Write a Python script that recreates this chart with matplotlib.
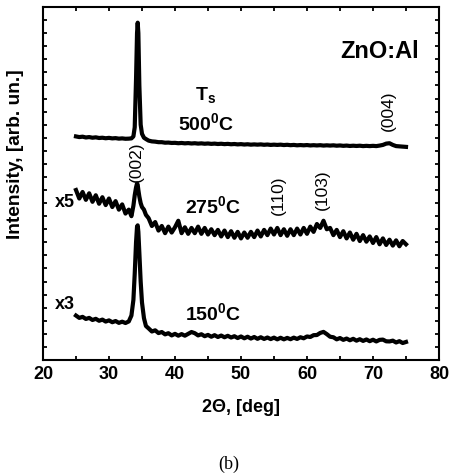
import numpy as np
import matplotlib
matplotlib.use("Agg")
import matplotlib.pyplot as plt
from matplotlib.ticker import MultipleLocator, NullFormatter

# ── fonts ───────────────────────────────────────────────────────────────────
plt.rcParams["font.family"] = ["Liberation Sans", "DejaVu Sans"]
plt.rcParams["mathtext.fontset"] = "custom"
plt.rcParams["mathtext.rm"] = "Liberation Sans:bold"
plt.rcParams["mathtext.bf"] = "Liberation Sans:bold"
plt.rcParams["mathtext.it"] = "Liberation Sans:bold"

# ── data (2Θ in deg, intensity in arb. units, curves already offset) ─────────
theta_left = np.arange(25.0, 33.01, 0.5)
theta_peak = [33.4, 33.7, 33.9, 34.1, 34.25, 34.35, 34.45, 34.6, 34.8, 35.0, 35.3, 35.6]
theta_right = np.arange(36.0, 75.01, 0.5)
two_theta = np.concatenate([theta_left, theta_peak, theta_right])

int_500 = [
    17.10, 17.05, 17.08, 17.02, 17.05, 17.00, 17.03, 16.98, 17.00, 16.96,
    16.99, 16.95, 16.97, 16.93, 16.95, 16.92, 16.93,
    # peak
    16.95, 17.10, 17.80, 21.50, 25.00, 25.80, 25.00, 21.00, 18.00, 17.30, 17.00, 16.90,
    # right
    16.78, 16.72, 16.70, 16.66, 16.66, 16.62, 16.63, 16.60, 16.61, 16.58,
    16.60, 16.57, 16.59, 16.56, 16.58, 16.55, 16.57, 16.54, 16.56, 16.53,
    16.55, 16.52, 16.54, 16.51, 16.53, 16.50, 16.52, 16.49, 16.51, 16.48,
    16.50, 16.47, 16.49, 16.47, 16.49, 16.46, 16.48, 16.45, 16.47, 16.45,
    16.47, 16.44, 16.46, 16.43, 16.45, 16.42, 16.44, 16.42, 16.44, 16.41,
    16.43, 16.41, 16.43, 16.40, 16.42, 16.40, 16.42, 16.39, 16.41, 16.38,
    16.40, 16.37, 16.39, 16.37, 16.39, 16.36, 16.38, 16.36, 16.38, 16.36,
    16.40, 16.45, 16.55, 16.58, 16.45, 16.36, 16.34, 16.32, 16.30,
]

int_275 = [
    13.00, 12.35, 12.85, 12.25, 12.75, 12.10, 12.60, 11.95, 12.45, 11.85,
    12.35, 11.70, 12.15, 11.50, 11.90, 11.20, 11.50,
    # peak
    11.00, 11.80, 12.60, 13.20, 13.50, 13.40, 13.00, 12.50, 12.00, 11.70, 11.50, 11.10,
    # right
    10.85, 10.25, 10.55, 9.90, 10.25, 9.70, 10.20, 9.75, 10.15, 10.65,
    9.70, 10.15, 9.65, 10.10, 9.70, 10.20, 9.65, 10.10, 9.60, 10.00,
    9.55, 9.95, 9.45, 9.90, 9.40, 9.85, 9.35, 9.80, 9.30, 9.75,
    9.35, 9.80, 9.40, 9.90, 9.45, 9.95, 9.55, 10.05, 9.60, 10.10,
    9.55, 10.00, 9.50, 10.00, 9.55, 10.05, 9.60, 10.10, 9.65, 10.20,
    9.80, 10.40, 10.10, 10.65, 10.00, 10.10, 9.55, 9.95, 9.40, 9.85,
    9.30, 9.75, 9.20, 9.65, 9.10, 9.55, 9.05, 9.45, 8.95, 9.40,
    8.85, 9.30, 8.80, 9.20, 8.75, 9.15, 8.70, 9.10, 8.85,
]

int_150 = [
    3.40, 3.22, 3.30, 3.14, 3.22, 3.06, 3.15, 3.00, 3.09, 2.94,
    3.03, 2.89, 2.98, 2.84, 2.93, 2.83, 2.95,
    # peak
    3.40, 4.60, 6.60, 9.00, 10.20, 10.30, 9.80, 8.20, 6.00, 4.40, 3.20, 2.60,
    # right
    2.42, 2.18, 2.27, 2.06, 2.14, 1.96, 2.05, 1.88, 2.00, 1.86,
    1.98, 1.86, 2.00, 2.14, 2.05, 1.88, 1.97, 1.82, 1.92, 1.78,
    1.90, 1.76, 1.87, 1.74, 1.85, 1.72, 1.82, 1.68, 1.80, 1.66,
    1.78, 1.64, 1.76, 1.62, 1.74, 1.61, 1.72, 1.60, 1.71, 1.58,
    1.70, 1.58, 1.69, 1.59, 1.71, 1.61, 1.74, 1.66, 1.80, 1.76,
    1.90, 1.91, 2.07, 2.15, 1.98, 1.78, 1.74, 1.58, 1.68, 1.54,
    1.64, 1.51, 1.62, 1.48, 1.59, 1.46, 1.57, 1.44, 1.55, 1.42,
    1.54, 1.56, 1.43, 1.42, 1.48, 1.34, 1.44, 1.30, 1.38,
]

# reflection labels: (text, 2Θ, y)
reflections = [("(002)", 34.1, 15.2), ("(110)", 55.6, 12.6),
               ("(103)", 62.4, 13.0), ("(004)", 72.4, 19.05)]

# ── figure ──────────────────────────────────────────────────────────────────
fig = plt.figure(figsize=(4.51, 4.75), dpi=100)
ax = fig.add_axes([0.0953, 0.2421, 0.8781, 0.7432])

for y in (int_500, int_275, int_150):
    ax.plot(two_theta, y, color="black", lw=3.0, solid_joinstyle="round")

ax.set_xlim(20, 80)
ax.set_ylim(0, 27)
ax.xaxis.set_major_locator(MultipleLocator(10))
ax.xaxis.set_minor_locator(MultipleLocator(5))
ax.yaxis.set_major_locator(MultipleLocator(1))
ax.yaxis.set_major_formatter(NullFormatter())
ax.tick_params(which="both", direction="in", top=True, right=True,
               width=1.3, length=3, labelsize=13, pad=4)
for lab in ax.get_xticklabels():
    lab.set_fontweight("bold")
for sp in ax.spines.values():
    sp.set_linewidth(1.5)

ax.set_xlabel("2Θ, [deg]", fontsize=13, fontweight="bold", labelpad=12)
ax.set_ylabel("Intensity, [arb. un.]", fontsize=13.8, fontweight="bold")
ax.yaxis.set_label_coords(-0.048, 0.584)

# ── annotations ─────────────────────────────────────────────────────────────
bold = dict(fontweight="bold", color="black")
ax.text(71.0, 23.6, "ZnO:Al", fontsize=17, ha="center", va="center", **bold)
ax.text(43.0, 19.9, r"T$_{\mathbf{s}}$", fontsize=14, ha="left", va="baseline", **bold)
ax.text(40.4, 17.6, r"500$^{\mathbf{0}}$C", fontsize=14, ha="left", va="baseline", **bold)
ax.text(41.5, 11.25, r"275$^{\mathbf{0}}$C", fontsize=14, ha="left", va="baseline", **bold)
ax.text(41.5, 3.06, r"150$^{\mathbf{0}}$C", fontsize=14, ha="left", va="baseline", **bold)
ax.text(21.8, 11.7, "x5", fontsize=13, ha="left", va="baseline", **bold)
ax.text(21.8, 3.9, "x3", fontsize=13, ha="left", va="baseline", **bold)

for txt, xx, yy in reflections:
    ax.text(xx, yy, txt, fontsize=12.5, rotation=90, ha="center", va="center")

fig.text(0.508, 0.023, "(b)", fontsize=13, family="Liberation Serif",
         ha="center", va="center")

fig.savefig("out.png", dpi=100)
